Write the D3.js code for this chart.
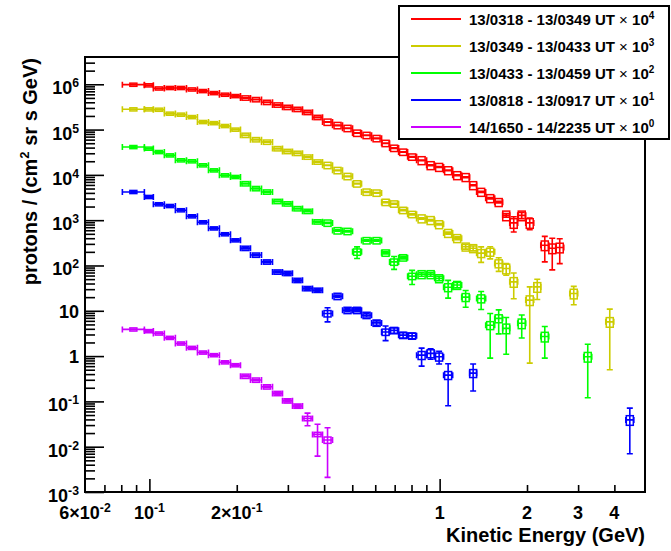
<!DOCTYPE html>
<html>
<head>
<meta charset="utf-8">
<script src="https://cdn.jsdelivr.net/npm/d3@7"></script>
<style>
  body { margin: 0; background: #fff; }
  text { font-family: "Liberation Sans", Arial, Helvetica, sans-serif; font-weight: bold; fill: #000; }
</style>
</head>
<body>
<svg id="chart" width="671" height="551"></svg>
<script>
// energy bin edges (GeV), shared by all time intervals
const binEdges = [
  0.0807, 0.0961, 0.1032, 0.1126, 0.1229, 0.1342, 0.1464, 0.1598, 0.1743, 0.1903,
  0.2060, 0.2230, 0.2434, 0.2656, 0.2875, 0.3112, 0.3370, 0.3648, 0.3950, 0.4276,
  0.4629, 0.5012, 0.5383, 0.5828, 0.6310, 0.6723, 0.7222, 0.7757, 0.8330, 0.9020,
  0.9612, 1.032, 1.109, 1.191, 1.269, 1.341, 1.441, 1.548, 1.649, 1.744,
  1.858, 1.980, 2.110, 2.231, 2.377, 2.512, 2.677, 2.808, 2.991, 3.137,
  3.343, 3.562, 3.736, 3.981, 4.380, 4.667
];

// systematic uncertainty (fraction) per bin
const sysFrac = [
  0.08, 0.08, 0.08, 0.08, 0.08, 0.08, 0.08, 0.08, 0.08, 0.08,
  0.11, 0.11, 0.11, 0.11, 0.11, 0.11, 0.11, 0.11, 0.16, 0.16,
  0.16, 0.16, 0.16, 0.16, 0.16, 0.16, 0.16, 0.16, 0.2, 0.2,
  0.2, 0.2, 0.2, 0.2, 0.2, 0.2, 0.2, 0.2, 0.24, 0.24,
  0.24, 0.24, 0.24, 0.24, 0.24, 0.24, 0.24, 0.24, 0.24, 0.24,
  0.24, 0.24, 0.24, 0.24, 0.24
];

const seriesNames = [
  '13/0318 - 13/0349 UT',
  '13/0349 - 13/0433 UT',
  '13/0433 - 13/0459 UT',
  '13/0818 - 13/0917 UT',
  '14/1650 - 14/2235 UT'
];
const seriesExp = [4, 3, 2, 1, 0];
const seriesColors = ['#ff0000', '#cccc00', '#00ff00', '#0000ff', '#cc00ff'];

// fluxes per bin, protons/(cm2 sr s GeV), before scaling
const redFlux = [
  98, 95, 81, 83, 83, 77, 71, 64, 59, 55,
  50, 46, 40, 35, 31, 28, 24, 18.6, 14.7, 12.4,
  10.7, 8.4, 7.5, 6.4, 5.0, 3.9, 3.2, 2.5, 2.1, 1.63,
  1.49, 1.26, 0.98, 0.89, 0.59, 0.42, 0.305, 0.25, 0.128, 0.087,
  0.128, 0.087, null, 0.028, 0.024, 0.025
];
const redErr = [
  1.2, 1.2, 1, 1, 1, 0.9, 0.8, 0.7, 0.6, 0.6,
  0.5, 0.5, 0.4, 0.4, 0.3, 0.3, 0.3, 0.2, 0.2, 0.15,
  0.13, 0.1, 0.1, 0.08, 0.07, 0.06, 0.05, 0.04, 0.035, 0.03,
  0.03, 0.025, 0.02, 0.02, 0.015, 0.012, 0.01, 0.01, 0.012, 0.032,
  0.02, 0.025, null, 0.016, 0.016, 0.014
];

const yellowFlux = [
  280, 280, 275, 225, 214, 189, 147, 139, 120, 100,
  75, 60, 53, 38, 33, 30, 24.8, 19.3, 16.3, 12.6,
  9.3, 6.4, 4.2, 4.0, 2.5, 2.3, 1.66, 1.35, 1.09, 1.0,
  0.81, 0.52, 0.40, 0.26, 0.24, 0.187, 0.20, 0.111, 0.086, 0.0435,
  null, 0.0172, 0.0337, null, null, null, null, 0.0241, null, null,
  null, null, 0.0057
];
const yellowErr = [
  3, 3, 3, 2.5, 2.5, 2, 1.6, 1.5, 1.3, 1.1,
  0.8, 0.7, 0.6, 0.45, 0.4, 0.35, 0.3, 0.25, 0.2, 0.17,
  0.13, 0.1, 0.08, 0.08, 0.06, 0.06, 0.05, 0.04, 0.035, 0.035,
  0.03, 0.03, 0.03, 0.03, 0.03, 0.07, 0.06, 0.037, 0.025, 0.025,
  null, 0.0165, 0.016, null, null, null, null, 0.0105, null, null,
  null, null, 0.0052
];

const greenFlux = [
  412, 380, 320, 270, 210, 200, 163, 126, 98, 90,
  64, 50, 42, 26, 23, 18, 15.7, 9.2, 8.7, 5.9,
  5.7, 2.0, 3.56, 3.56, 1.9, 1.2, 1.49, 0.58, 0.64, 0.64,
  0.52, 0.33, 0.37, 0.20, null, 0.187, 0.048, 0.068, 0.041, null,
  0.053, null, null, 0.027, null, null, null, null, null, 0.0097
];
const greenErr = [
  5, 5, 4, 3.5, 3, 3, 2.5, 2, 1.5, 1.4,
  1.1, 0.9, 0.8, 0.5, 0.5, 0.4, 0.35, 0.25, 0.25, 0.2,
  0.2, 0.57, 0.12, 0.12, 0.1, 0.38, 0.1, 0.2, 0.06, 0.06,
  0.06, 0.14, 0.05, 0.08, null, 0.08, 0.039, 0.037, 0.03, null,
  0.028, null, null, 0.018, null, null, null, null, null, 0.0085
];

const blueFlux = [
  420, 326, 225, 206, 166, 122, 90, 66, 49, 36,
  24, 17, 12, 7.2, 6.7, 4.7, 3.1, 2.85, 0.87, 2.1,
  1.03, 1.03, 0.80, 0.54, 0.34, 0.37, 0.29, 0.28, 0.105, 0.115,
  0.097, 0.038, null, null, 0.042, null, null, null, null, null,
  null, null, null, null, null, null, null, null, null, null,
  null, null, null, null, 0.0039
];
const blueErr = [
  6, 5, 4, 3.5, 3, 2.5, 2, 1.6, 1.3, 1,
  0.8, 0.6, 0.5, 0.3, 0.3, 0.25, 0.2, 0.2, 0.3, 0.12,
  0.08, 0.08, 0.07, 0.06, 0.12, 0.05, 0.04, 0.04, 0.045, 0.03,
  0.03, 0.03, null, null, 0.025, null, null, null, null, null,
  null, null, null, null, null, null, null, null, null, null,
  null, null, null, null, 0.0032
];

const violetFlux = [
  3.88, 3.56, 3.16, 2.53, 1.9, 1.52, 1.2, 1.05, 0.73, 0.63,
  0.36, 0.296, 0.21, 0.15, 0.103, 0.079, 0.042, 0.0187, 0.0141
];
const violetErr = [
  0.06, 0.05, 0.05, 0.04, 0.035, 0.03, 0.025, 0.02, 0.018, 0.015,
  0.01, 0.009, 0.008, 0.007, 0.006, 0.005, 0.013, 0.0125, 0.012
];

const seriesFlux = [redFlux, yellowFlux, greenFlux, blueFlux, violetFlux];
const seriesErr = [redErr, yellowErr, greenErr, blueErr, violetErr];

// axis ticks
const xMajor = [0.1, 1];
const xMinor = [0.07, 0.08, 0.09, 0.2, 0.3, 0.4, 0.5, 0.6, 0.7, 0.8, 0.9, 2, 3, 4];
const xLabels = [
  { v: 0.06, pre: '6\u00d710', exp: '-2' },
  { v: 0.1, pre: '10', exp: '-1' },
  { v: 0.2, pre: '2\u00d710', exp: '-1' },
  { v: 1, pre: '1', exp: '' },
  { v: 2, pre: '2', exp: '' },
  { v: 3, pre: '3', exp: '' },
  { v: 4, pre: '4', exp: '' }
];
const yDecades = [-3, -2, -1, 0, 1, 2, 3, 4, 5, 6];

const frame = { left: 85, right: 645, top: 57, bottom: 492 };

const svg = d3.select('#chart');

const x = d3.scaleLog().domain([0.06, 5.1]).range([frame.left, frame.right]);
const y = d3.scaleLog().domain([1e-3, 4e6]).range([frame.bottom, frame.top]);

svg.append('defs').append('clipPath').attr('id', 'plot-clip')
  .append('rect')
  .attr('x', frame.left).attr('y', frame.top)
  .attr('width', frame.right - frame.left)
  .attr('height', frame.bottom - frame.top);

// ticks
const yMinor = [];
yDecades.forEach(k => {
  for (let m = 2; m <= 9; m++) {
    const v = m * Math.pow(10, k);
    if (v < 4e6) yMinor.push(v);
  }
});

function tickAxis(axis, tx, ty) {
  const g = svg.append('g').attr('transform', `translate(${tx},${ty})`).call(axis);
  g.select('.domain').remove();
  g.selectAll('.tick line').attr('stroke', '#000').attr('stroke-width', 1.6);
  return g;
}

tickAxis(d3.axisBottom(x).tickValues(xMajor).tickSize(-13).tickFormat(''), 0, frame.bottom);
tickAxis(d3.axisBottom(x).tickValues(xMinor).tickSize(-7).tickFormat(''), 0, frame.bottom);
tickAxis(d3.axisLeft(y).tickValues(yDecades.map(k => Math.pow(10, k))).tickSize(-19).tickFormat(''), frame.left, 0);
tickAxis(d3.axisLeft(y).tickValues(yMinor).tickSize(-10).tickFormat(''), frame.left, 0);

// tick labels with superscripts
function supText(g, pre, exp, size) {
  g.append('tspan').text(pre);
  if (exp) {
    g.append('tspan').attr('dy', -7).attr('font-size', size * 0.68).text(exp);
  }
}

xLabels.forEach(d => {
  const t = svg.append('text')
    .attr('x', x(d.v)).attr('y', 519)
    .attr('text-anchor', 'middle')
    .attr('font-size', 18);
  supText(t, d.pre, d.exp, 18);
});

yDecades.forEach(k => {
  const plain = k === 0 || k === 1;
  const t = svg.append('text')
    .attr('x', 79).attr('y', y(Math.pow(10, k)) + (plain ? 7 : 10))
    .attr('text-anchor', 'end')
    .attr('font-size', 18);
  if (k === 0) supText(t, '1', '', 18);
  else if (k === 1) supText(t, '10', '', 18);
  else supText(t, '10', String(k), 18);
});

// axis titles
svg.append('text')
  .attr('x', frame.right).attr('y', 542)
  .attr('text-anchor', 'end')
  .attr('font-size', 20)
  .text('Kinetic Energy (GeV)');

const yTitle = svg.append('text')
  .attr('transform', `translate(37,${frame.top + 1}) rotate(-90)`)
  .attr('text-anchor', 'end')
  .attr('font-size', 20);
yTitle.append('tspan').text('protons / (cm');
yTitle.append('tspan').attr('dy', -8).attr('font-size', 13).text('2');
yTitle.append('tspan').attr('dy', 8).text(' sr s GeV)');

// data points: stat error bars, bin-width bars and systematic boxes
const plot = svg.append('g').attr('clip-path', 'url(#plot-clip)');
const cap = 3;

seriesFlux.forEach((flux, s) => {
  const scale = Math.pow(10, seriesExp[s]);
  const err = seriesErr[s];
  const color = seriesColors[s];
  const g = plot.append('g').attr('class', 'series-' + s);

  flux.forEach((f, i) => {
    if (f == null) return;
    const v = f * scale;
    const e = (err[i] || 0) * scale;
    const xl = x(binEdges[i]);
    const xr = x(binEdges[i + 1]);
    const xc = x(Math.sqrt(binEdges[i] * binEdges[i + 1]));
    const yc = y(v);
    const yt = y(v + e);
    const yb = v - e > 1e-4 ? y(v - e) : frame.bottom + 5;

    const sys = sysFrac[i];
    const boxW = Math.min(xr - xl, 7);
    g.append('rect')
      .attr('x', xc - boxW / 2)
      .attr('y', y(v * (1 + sys)))
      .attr('width', boxW)
      .attr('height', y(v * (1 - sys)) - y(v * (1 + sys)))
      .attr('fill', 'none')
      .attr('stroke', color)
      .attr('stroke-width', 1.5);

    const p = d3.path();
    p.moveTo(xl, yc); p.lineTo(xr, yc);
    p.moveTo(xl, yc - cap); p.lineTo(xl, yc + cap);
    p.moveTo(xr, yc - cap); p.lineTo(xr, yc + cap);
    p.moveTo(xc, yt); p.lineTo(xc, yb);
    p.moveTo(xc - cap, yt); p.lineTo(xc + cap, yt);
    p.moveTo(xc - cap, yb); p.lineTo(xc + cap, yb);
    g.append('path')
      .attr('d', p.toString())
      .attr('fill', 'none')
      .attr('stroke', color)
      .attr('stroke-width', 1.6);
  });
});

// frame
svg.append('rect')
  .attr('x', frame.left).attr('y', frame.top)
  .attr('width', frame.right - frame.left)
  .attr('height', frame.bottom - frame.top)
  .attr('fill', 'none')
  .attr('stroke', '#000')
  .attr('stroke-width', 2);

// legend
const legend = svg.append('g');
legend.append('rect')
  .attr('x', 399).attr('y', 6)
  .attr('width', 270).attr('height', 133)
  .attr('fill', '#fff')
  .attr('stroke', '#000')
  .attr('stroke-width', 2);

seriesNames.forEach((name, s) => {
  const ly = 19 + s * 27;
  legend.append('line')
    .attr('x1', 411).attr('x2', 461)
    .attr('y1', ly).attr('y2', ly)
    .attr('stroke', seriesColors[s])
    .attr('stroke-width', 2);
  const t = legend.append('text')
    .attr('x', 469).attr('y', ly + 5.5)
    .attr('font-size', 15);
  t.append('tspan').text(name + ' ');
  t.append('tspan').attr('font-weight', 'normal').text('\u00d7');
  t.append('tspan').text(' 10');
  t.append('tspan').attr('dy', -6).attr('font-size', 10).text(String(seriesExp[s]));
});
</script>
</body>
</html>
